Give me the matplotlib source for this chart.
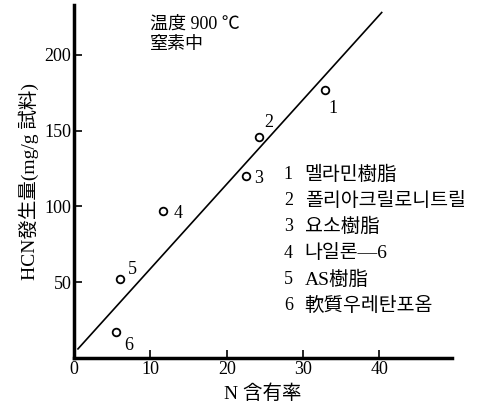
import matplotlib
matplotlib.use("Agg")
import matplotlib.pyplot as plt

plt.rcParams['font.family'] = ['Liberation Serif', 'Noto Sans CJK KR']

# data
n_content = [32.9, 24.2, 22.5, 11.7, 6.0, 5.5]
hcn_yield = [177, 146, 120, 97, 52, 17]
point_ids = ['1', '2', '3', '4', '5', '6']
label_offsets = [(2, -17), (4, 7), (6, -5), (7, -5), (6, 4), (6, -13)]
fit_x = [0.5, 40.3]
fit_y = [6, 228]
materials = ['멜라민樹脂', '폴리아크릴로니트릴', '요소樹脂', '나일론―6', 'AS樹脂', '軟質우레탄포옴']
x_ticks = [0, 10, 20, 30, 40]
y_ticks = [50, 100, 150, 200]

fig = plt.figure(figsize=(5.01, 4.11), dpi=100)
ax = fig.add_axes([0.148, 0.129, 0.754, 0.859])

ax.plot(fit_x, fit_y, color='black', lw=1.2)
ax.plot(n_content, hcn_yield, 'o', mfc='white', mec='black', mew=1.3, ms=5.5)
for x, y, pid, off in zip(n_content, hcn_yield, point_ids, label_offsets):
    ax.annotate(pid, (x, y), xytext=off, textcoords='offset points', fontsize=13)

ax.set_xlim(0, 49.5)
ax.set_ylim(0, 233)
ax.set_xticks(x_ticks)
ax.set_yticks(y_ticks)
ax.tick_params(direction='in', length=6, width=1.2, labelsize=13, pad=2)
for s in ['top', 'right']:
    ax.spines[s].set_visible(False)
for s in ['left', 'bottom']:
    ax.spines[s].set_linewidth(2.5)

ax.set_xlabel('N 含有率', fontsize=14, labelpad=5)
ax.set_ylabel('HCN發生量(mg/g 試料)', fontsize=14, labelpad=4)

ax.text(0.2, 0.97, '温度 900 ℃\n窒素中', transform=ax.transAxes, fontsize=13,
        va='top', linespacing=1.25)

for i, m in enumerate(materials):
    yy = 0.52 - i * 0.0745
    ax.text(0.555, yy, str(i + 1), transform=ax.transAxes, fontsize=13, va='center')
    ax.text(0.61, yy, m, transform=ax.transAxes, fontsize=14, va='center')

fig.savefig('out.png', dpi=100)
